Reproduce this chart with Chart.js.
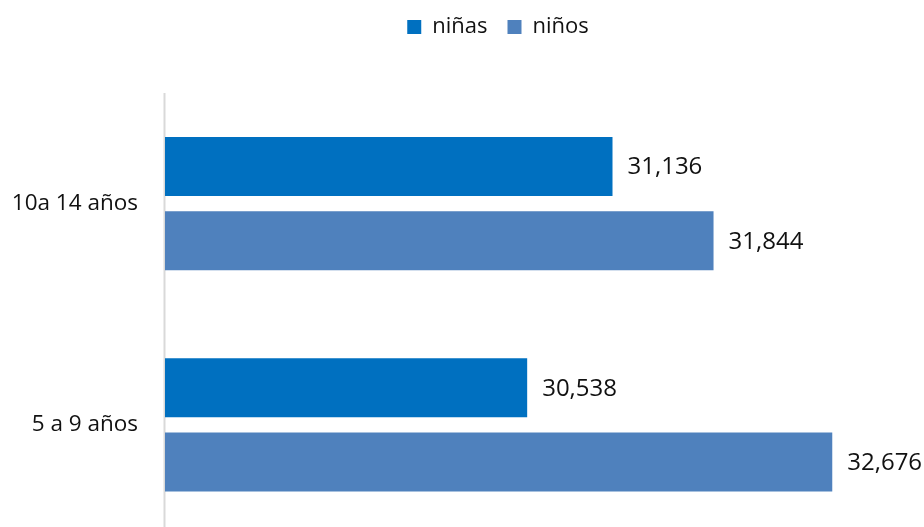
<!DOCTYPE html>
<html>
<head>
<meta charset="utf-8">
<script src="https://cdn.jsdelivr.net/npm/chart.js@4/dist/chart.umd.min.js"></script>
<style>
  html, body { margin: 0; padding: 0; background: #fff; overflow: hidden; }
  #wrap { width: 924px; height: 527px; overflow: hidden; }
</style>
</head>
<body>
<div id="wrap"><canvas id="chart" width="924" height="576"></canvas></div>
<script>
// Data
const categories = ['10a 14 años', '5 a 9 años'];
const seriesNames = ['niñas', 'niños'];
const ninas = [31136, 30538];
const ninos = [31844, 32676];
const axisMin = 28000;
const axisMax = 33000;

const colors = ['#0070C0', '#4F81BD'];
const textColor = '#111';
const fontFamily = '"Open Sans", sans-serif';

// vertical category axis line, running down to the bottom edge
const axisLine = {
    id: 'axisLine',
    beforeDatasetsDraw(chart) {
        const ctx = chart.ctx;
        const x = chart.scales.x.getPixelForValue(axisMin) - 0.5;
        ctx.save();
        ctx.strokeStyle = '#D9D9D9';
        ctx.lineWidth = 2;
        ctx.beginPath();
        ctx.moveTo(x, chart.chartArea.top);
        ctx.lineTo(x, chart.height);
        ctx.stroke();
        ctx.restore();
    }
};

// value labels at the end of each bar
const barLabels = {
    id: 'barLabels',
    afterDatasetsDraw(chart) {
        const ctx = chart.ctx;
        ctx.save();
        ctx.font = '24px ' + fontFamily;
        ctx.fillStyle = textColor;
        ctx.textAlign = 'left';
        ctx.textBaseline = 'middle';
        chart.data.datasets.forEach((ds, i) => {
            chart.getDatasetMeta(i).data.forEach((bar, j) => {
                ctx.fillText(ds.data[j].toLocaleString('en-US'), bar.x + 15, bar.y + 1);
            });
        });
        ctx.restore();
    }
};

// nudge the legend to where the original puts it
const legendNudge = {
    id: 'legendNudge',
    afterLayout(chart) {
        const lg = chart.legend;
        if (!lg) return;
        const dx = 498 - (lg.left + lg.right) / 2;
        const dy = -4 - lg.top;
        lg.left += dx; lg.right += dx;
        lg.top += dy; lg.bottom += dy;
    }
};

try {
    new Chart(document.getElementById('chart'), {
        type: 'bar',
        data: {
            labels: categories,
            datasets: [
                { label: seriesNames[0], data: ninas, backgroundColor: colors[0] },
                { label: seriesNames[1], data: ninos, backgroundColor: colors[1] }
            ]
        },
        options: {
            indexAxis: 'y',
            responsive: false,
            animation: false,
            categoryPercentage: 0.67,
            barPercentage: 0.797,
            layout: { padding: { top: 41, right: 45.5, bottom: 5, left: 0 } },
            plugins: {
                legend: {
                    position: 'top',
                    labels: {
                        boxWidth: 14,
                        boxHeight: 14,
                        padding: 20,
                        color: textColor,
                        font: { family: fontFamily, size: 22 }
                    }
                },
                tooltip: { enabled: false }
            },
            scales: {
                x: {
                    min: axisMin,
                    max: axisMax,
                    display: false
                },
                y: {
                    grid: { display: false, drawTicks: false },
                    border: { display: false },
                    ticks: {
                        padding: 27,
                        color: textColor,
                        font: { family: fontFamily, size: 22.5 }
                    },
                    afterFit(scale) { scale.width = 165; }
                }
            }
        },
        plugins: [axisLine, barLabels, legendNudge]
    });
} catch (error) {
    console.error('Chart error:', error);
}
</script>
</body>
</html>
